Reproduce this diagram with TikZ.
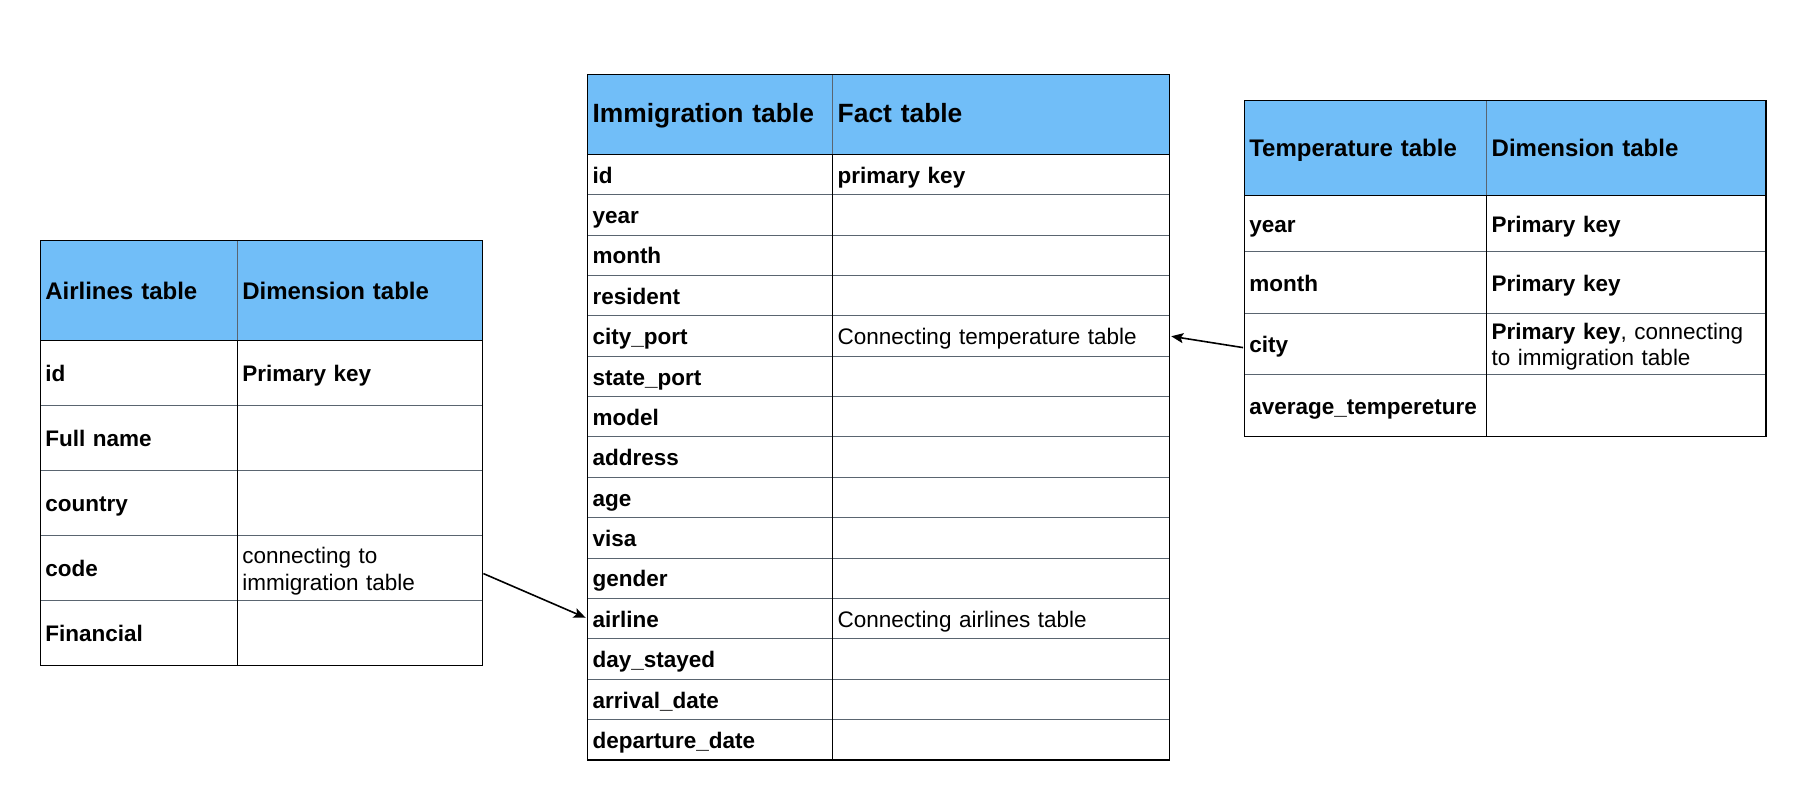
\documentclass[tikz,border=0pt]{standalone}
\usepackage{fontspec}
\setmainfont{Liberation Sans}
\usetikzlibrary{arrows.meta}

\definecolor{headerblue}{HTML}{71BEF8}
\definecolor{gridgray}{HTML}{5A6570}

\begin{document}
\begin{tikzpicture}[%
        x = 1pt, y = -1pt,
        line cap = rect,
        cell/.style = {anchor = north west, inner xsep = 5pt, inner ysep = 0pt,
                       outer sep = 0pt, align = left,
                       execute at begin node = \rule{0pt}{25.5pt},
                       execute at end node = \strut,
                       font = \fontsize{22.5}{26.5}\selectfont},
        fieldcell/.style = {cell, font = \fontsize{22.5}{26.5}\selectfont\bfseries},
        headcell/.style = {cell, fill = headerblue,
                           font = \fontsize{24}{28}\selectfont\bfseries},
        rowline/.style = {draw = gridgray, line width = 1pt},
        keyline/.style = {draw = black, line width = 1.5pt},
        link/.style = {draw = black, line width = 1.6pt,
                       -{Stealth[length = 12pt, width = 10pt, inset = 2.5pt]},
                       shorten >= 2pt, shorten <= 2pt}
    ]

        % Fix the page to the size of the reference.
        \useasboundingbox (0, 0) rectangle (1804, 810);

        % Airlines table, on the left.
        \node[headcell, text width = 187pt, minimum height = 100.1pt]
            (air-h-a) at (40.3, 240.5) {Airlines table};
        \node[headcell, text width = 235pt, minimum height = 100.1pt]
            (air-h-b) at (237.3, 240.5) {Dimension table};
        \foreach \field/\note [count = \i] in {id/\textbf{Primary key}, Full name/,
                country/, code/connecting to\\immigration table, Financial/} {
            \node[fieldcell, text width = 187pt, minimum height = 65pt]
                (air-\i-a) at (40.3, {340.6 + 65*(\i - 1)}) {\field};
            \node[cell, text width = 235pt, minimum height = 65pt]
                (air-\i-b) at (237.3, {340.6 + 65*(\i - 1)}) {\note};
        }

        % Immigration table, the fact table in the middle.
        \node[headcell, font = \fontsize{26.4}{30}\selectfont\bfseries,
              text width = 235.2pt, minimum height = 80pt]
            (imm-h-a) at (587.5, 74.3) {Immigration table};
        \node[headcell, font = \fontsize{26.4}{30}\selectfont\bfseries,
              text width = 326.6pt, minimum height = 80pt]
            (imm-h-b) at (832.7, 74.3) {Fact table};
        \foreach \field/\note [count = \i] in {id/\textbf{primary key}, year/, month/,
                resident/, city\_port/Connecting temperature table, state\_port/,
                model/, address/, age/, visa/, gender/,
                airline/Connecting airlines table, day\_stayed/, arrival\_date/,
                departure\_date/} {
            \node[fieldcell, text width = 235.2pt, minimum height = 40.37pt]
                (imm-\i-a) at (587.5, {154.3 + 40.37*(\i - 1)}) {\field};
            \node[cell, text width = 326.6pt, minimum height = 40.37pt]
                (imm-\i-b) at (832.7, {154.3 + 40.37*(\i - 1)}) {\note};
        }

        % Temperature table, on the right (its rows are not all alike).
        \node[headcell, text width = 232.4pt, minimum height = 95pt]
            (tmp-h-a) at (1244.3, 100.7) {Temperature table};
        \node[headcell, text width = 269.1pt, minimum height = 95pt]
            (tmp-h-b) at (1486.7, 100.7) {Dimension table};
        \foreach \field/\note/\ytop/\rowht [count = \i] in {
                year/\textbf{Primary key}/195.7/56,
                month/\textbf{Primary key}/251.7/61.6,
                city/{\textbf{Primary key}, connecting\\to immigration table}/313.3/61,
                average\_tempereture//374.3/62.4} {
            \node[fieldcell, text width = 232.4pt, minimum height = \rowht pt]
                (tmp-\i-a) at (1244.3, \ytop) {\field};
            \node[cell, text width = 269.1pt, minimum height = \rowht pt]
                (tmp-\i-b) at (1486.7, \ytop) {\note};
        }

        % Grey rules between the rows.
        \foreach \i in {1, ..., 4}
            \draw[rowline] (air-\i-a.south west) -- (air-\i-b.south east);
        \foreach \i in {1, ..., 14}
            \draw[rowline] (imm-\i-a.south west) -- (imm-\i-b.south east);
        \foreach \i in {1, ..., 3}
            \draw[rowline] (tmp-\i-a.south west) -- (tmp-\i-b.south east);
        \draw[rowline] (air-h-b.north west) -- (air-h-b.south west);
        \draw[rowline] (imm-h-b.north west) -- (imm-h-b.south west);
        \draw[rowline] (tmp-h-b.north west) -- (tmp-h-b.south west);

        % Black rules: header line, column line and the frame.
        \draw[keyline] (air-h-a.south west) -- (air-h-b.south east);
        \draw[keyline] (air-1-b.north west) -- (air-5-b.south west);
        \draw[keyline] (air-h-a.north west) rectangle (air-5-b.south east);
        \draw[keyline] (imm-h-a.south west) -- (imm-h-b.south east);
        \draw[keyline] (imm-1-b.north west) -- (imm-15-b.south west);
        \draw[keyline] (imm-h-a.north west) rectangle (imm-15-b.south east);
        \draw[keyline] (tmp-h-a.south west) -- (tmp-h-b.south east);
        \draw[keyline] (tmp-1-b.north west) -- (tmp-4-b.south west);
        \draw[keyline] (tmp-h-a.north west) rectangle (tmp-4-b.south east);

        % Links between the tables.
        \draw[link] ([yshift = -5pt]air-4-b.east) -- (imm-12-a.west);
        \draw[link] ([yshift = -4pt]tmp-3-a.west) -- (imm-5-b.east);
    \end{tikzpicture}
\end{document}
